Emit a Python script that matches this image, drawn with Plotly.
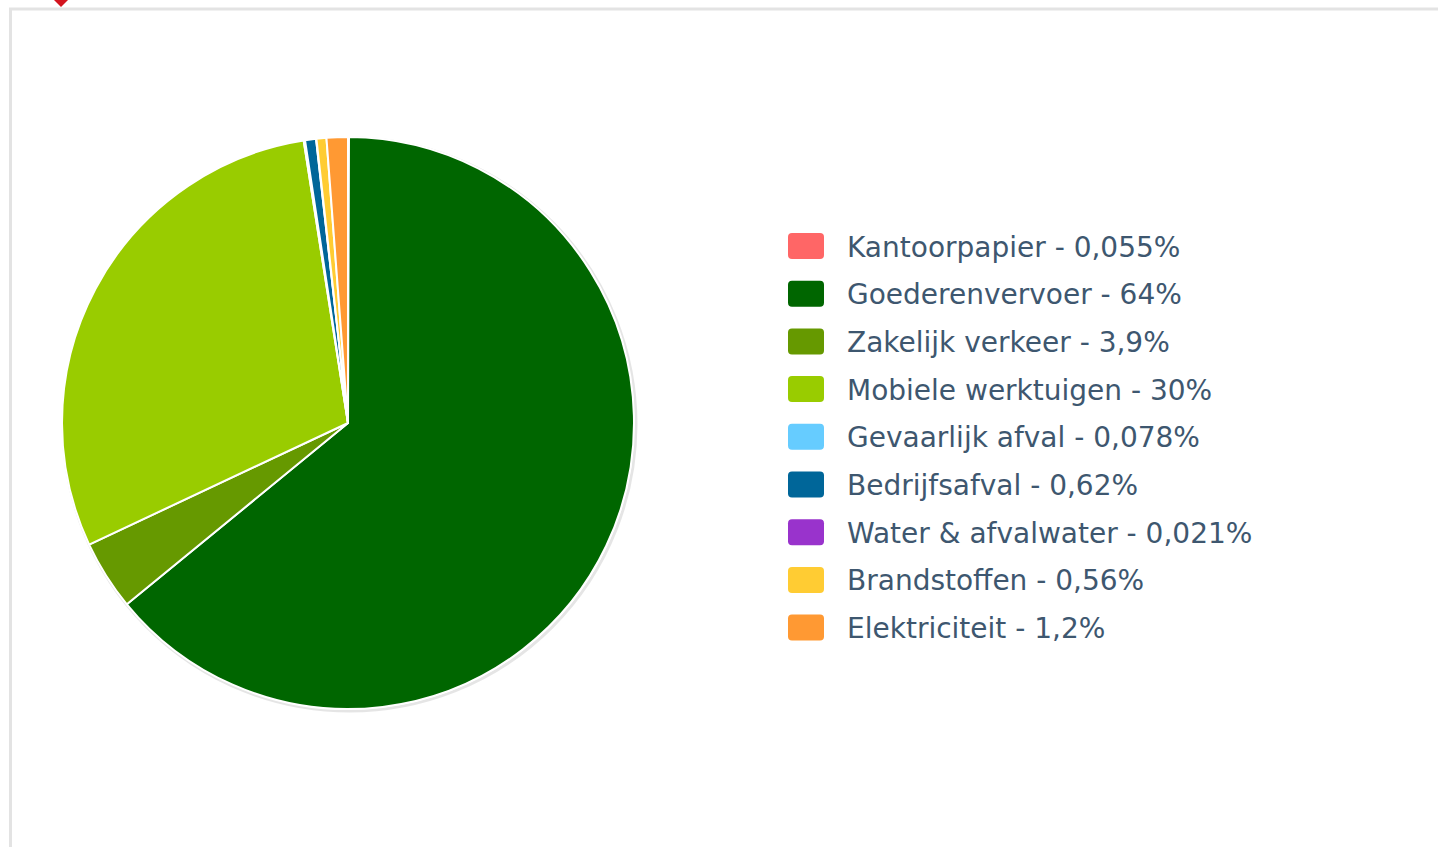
import plotly.graph_objects as go

labels = ["Kantoorpapier", "Goederenvervoer", "Zakelijk verkeer", "Mobiele werktuigen",
          "Gevaarlijk afval", "Bedrijfsafval", "Water & afvalwater", "Brandstoffen", "Elektriciteit"]
values = [0.055, 64.0, 3.94, 29.5, 0.078, 0.62, 0.021, 0.56, 1.2]
colors = ["#FF6666", "#006600", "#669900", "#99CC00", "#66CCFF", "#006699", "#9933CC", "#FFCC33", "#FF9933"]

W, H = 1438, 847
def px(x): return x / W
def py(y): return 1 - y / H

# pie geometry (pixels)
cx, cy, r = 348, 423, 286

fig = go.Figure()
fig.add_trace(go.Pie(
    labels=labels, values=values, sort=False, direction="clockwise", rotation=0,
    marker=dict(colors=colors, line=dict(color="white", width=2)),
    textinfo="none", hoverinfo="label+percent", showlegend=False,
    domain=dict(x=[px(cx - r), px(cx + r)], y=[py(cy + r), py(cy - r)]),
))

shapes = []
# frame borders
shapes.append(dict(type="line", xref="paper", yref="paper", x0=px(9), x1=1, y0=py(9), y1=py(9),
                   line=dict(color="#E3E3E3", width=3)))
shapes.append(dict(type="line", xref="paper", yref="paper", x0=px(10.5), x1=px(10.5), y0=py(8), y1=0,
                   line=dict(color="#E3E3E3", width=3)))
# red marker at top
shapes.append(dict(type="path", xref="paper", yref="paper",
                   path=f"M{px(53)},{py(-1)} L{px(61)},{py(7)} L{px(69)},{py(-1)} Z",
                   fillcolor="#D3141E", line=dict(width=0)))
# soft shadow behind pie
shapes.append(dict(type="circle", xref="paper", yref="paper", layer="below",
                   x0=px(cx - r + 1), x1=px(cx + r + 2), y0=py(cy + r + 2), y1=py(cy - r + 1),
                   line=dict(color="rgba(0,0,0,0.10)", width=3), fillcolor="rgba(0,0,0,0)"))

annotations = []
def fmt(v):
    return f"{v:.2g}".replace(".", ",")

y0, step = 246, 47.7
sx0, sx1, sh = 788, 824, 26
rad = 4
for i, (lab, v, c) in enumerate(zip(labels, values, colors)):
    yc = y0 + i * step
    t, b = yc - sh / 2, yc + sh / 2
    path = (f"M{px(sx0 + rad)},{py(t)} L{px(sx1 - rad)},{py(t)} "
            f"Q{px(sx1)},{py(t)} {px(sx1)},{py(t + rad)} L{px(sx1)},{py(b - rad)} "
            f"Q{px(sx1)},{py(b)} {px(sx1 - rad)},{py(b)} L{px(sx0 + rad)},{py(b)} "
            f"Q{px(sx0)},{py(b)} {px(sx0)},{py(b - rad)} L{px(sx0)},{py(t + rad)} "
            f"Q{px(sx0)},{py(t)} {px(sx0 + rad)},{py(t)} Z")
    shapes.append(dict(type="path", xref="paper", yref="paper", path=path,
                       fillcolor=c, line=dict(width=0)))
    annotations.append(dict(xref="paper", yref="paper", x=px(845), y=py(yc + 1),
                            xanchor="left", yanchor="middle", showarrow=False,
                            text=f"{lab} - {fmt(v)}%",
                            font=dict(family="Verdana, DejaVu Sans, sans-serif", size=28, color="#3E576F")))

fig.update_layout(
    width=W, height=H, margin=dict(l=0, r=0, t=0, b=0),
    paper_bgcolor="white", plot_bgcolor="white",
    shapes=shapes, annotations=annotations,
)
fig.write_html("out.html")
